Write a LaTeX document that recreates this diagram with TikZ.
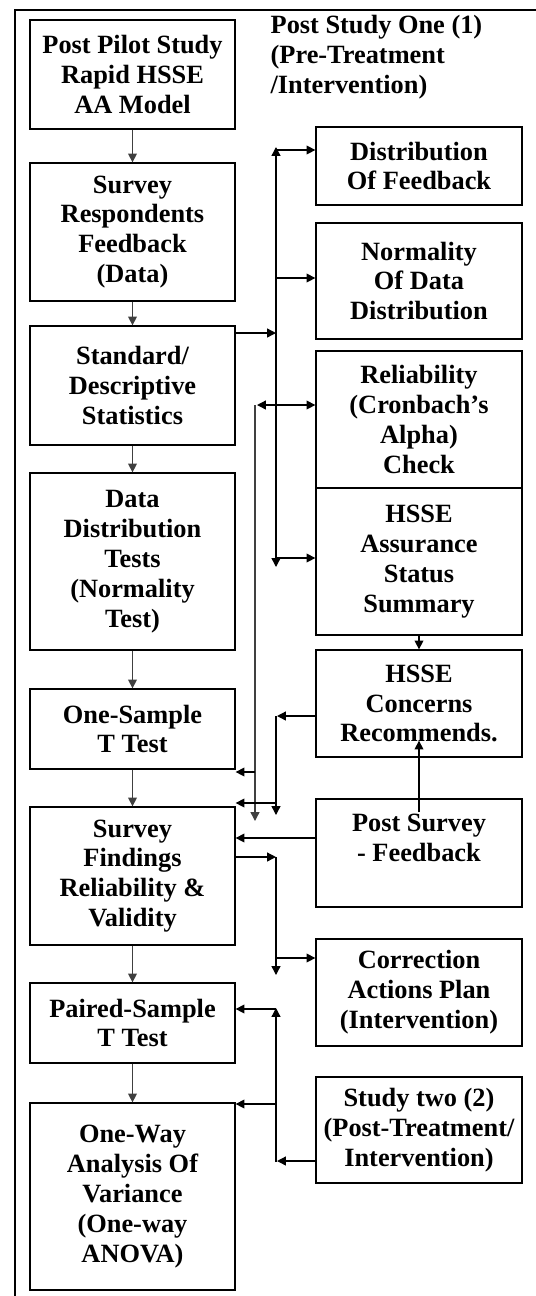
\documentclass[tikz,border=0pt]{standalone}
\usepackage{fontspec}
\setmainfont{Liberation Serif}
\usetikzlibrary{arrows.meta}

\begin{document}
\begin{tikzpicture}[x=0.02cm,y=-0.02cm,line width=0.75pt,
    >={Triangle[length=5pt,width=5pt]}]
      \useasboundingbox (0,0) rectangle (536,1296);
      \draw (15,1296) |- (536,10);
      \node[anchor=base west,align=left,inner sep=0pt,font=\fontsize{15}{17}\selectfont\bfseries]
        (title) at (270,93) {Post Study One (1)\\(Pre-Treatment\\/Intervention)};
      % left column
      \begin{scope}[every node/.style={draw,line width=0.75pt,align=center,inner sep=0pt,
          minimum width=4.1cm,font=\fontsize{15}{17}\selectfont\bfseries}]
        \node[minimum height=2.18cm] (pilot) at (132.5,74.5) {Post Pilot Study\\Rapid HSSE\\AA Model};
        \node[minimum height=2.76cm] (resp) at (132.5,232) {Survey\\Respondents\\Feedback\\(Data)};
        \node[minimum height=2.38cm] (stats) at (132.5,385.5) {Standard/\\Descriptive\\Statistics};
        \node[minimum height=3.54cm] (ddt) at (132.5,561.5) {Data\\Distribution\\Tests\\(Normality\\Test)};
        \node[minimum height=1.6cm] (onesamp) at (132.5,729) {One-Sample\\T Test};
        \node[minimum height=2.76cm] (findings) at (132.5,876) {Survey\\Findings\\Reliability \&\\Validity};
        \node[minimum height=1.6cm] (paired) at (132.5,1023) {Paired-Sample\\T Test};
        \node[minimum height=3.74cm] (oneway) at (132.5,1196.5) {One-Way\\Analysis Of\\Variance\\(One-way\\ANOVA)};
      \end{scope}
      % right column
      \begin{scope}[every node/.style={draw,line width=0.75pt,align=center,inner sep=0pt,
          minimum width=4.12cm,font=\fontsize{15}{17}\selectfont\bfseries}]
        \node[minimum height=1.56cm] (distfb) at (419,166) {Distribution\\Of Feedback};
        \node[minimum height=2.32cm] (normal) at (419,281) {Normality\\Of Data\\Distribution};
        \node[minimum height=2.74cm] (reliab) at (419,419.5) {Reliability\\(Cronbach’s\\Alpha)\\Check};
        \node[minimum height=2.94cm] (assure) at (419,561.5) {HSSE\\Assurance\\Status\\Summary};
        \node[minimum height=2.14cm] (concerns) at (419,703.5) {HSSE\\Concerns\\Recommends.};
        \node[minimum height=2.16cm] (postsv) at (419,853) {Post Survey\\- Feedback\\~};
        \node[minimum height=2.14cm] (correct) at (419,992.5) {Correction\\Actions Plan\\(Intervention)};
        \node[minimum height=2.12cm] (study2) at (419,1130) {Study two (2)\\(Post-Treatment/\\Intervention)};
      \end{scope}
      % junction points
      \coordinate (a0) at (276,147);
      \coordinate (a1) at (276,567);
      \coordinate (a2) at (276,333);
      \coordinate (a3) at (276,150);
      \coordinate (a4) at (276,278);
      \coordinate (a5) at (276,558);
      \coordinate (b0) at (257,405);
      \coordinate (b1) at (255,405);
      \coordinate (b2) at (255,821);
      \coordinate (b3) at (255,772);
      \coordinate (c0) at (277,716);
      \coordinate (c1) at (276,716);
      \coordinate (c2) at (276,815);
      \coordinate (c3) at (276,803);
      \coordinate (d0) at (300,838);
      \coordinate (d1) at (276,857);
      \coordinate (d2) at (276,975);
      \coordinate (d3) at (276,958);
      \coordinate (e0) at (276,1162);
      \coordinate (e1) at (276,1008);
      \coordinate (e2) at (276,1009);
      \coordinate (e3) at (276,1104);
      \coordinate (e4) at (277,1161);
      \begin{scope}[every edge/.style={draw,->,black!75}]
        \path (pilot) edge (resp);
        \path (resp) edge (stats);
        \path (stats) edge (ddt);
        \path (ddt) edge (onesamp);
        \path (onesamp) edge (findings);
        \path (findings) edge (paired);
        \path (paired) edge (oneway);
      \end{scope}
      \draw[<->] (a0) -- (a1);
      \draw[->] (stats.east |- a2) -- (a2);
      \draw[->] (a3) -- (distfb.west |- a3);
      \draw[->] (a4) -- (normal.west |- a4);
      \draw[->] (a5) -- (assure.west |- a5);
      \draw[<->] (b0) -- (reliab.west |- b0);
      \draw[->,black!75] (b1) -- (b2);
      \draw[->] (b3) -- (onesamp.east |- b3);
      \draw[->] (concerns.west |- c0) -- (c0);
      \draw[->] (c1) -- (c2);
      \draw[->] (c3) -- (findings.east |- c3);
      \draw[->] (assure) -- (concerns);
      \draw[->] ([yshift=-0.28cm]postsv.north) -- ([yshift=0.34cm]concerns.south);
      \draw[->] (postsv.west |- d0) -- (findings.east |- d0);
      \draw[->] (findings.east |- d1) -- (d1);
      \draw[->] (d1) -- (d2);
      \draw[->] (d3) -- (correct.west |- d3);
      \draw[->] (e0) -- (e1);
      \draw[->] (e2) -- (paired.east |- e2);
      \draw[->] (e3) -- (oneway.east |- e3);
      \draw[->] (study2.west |- e4) -- (e4);
    \end{tikzpicture}
\end{document}
